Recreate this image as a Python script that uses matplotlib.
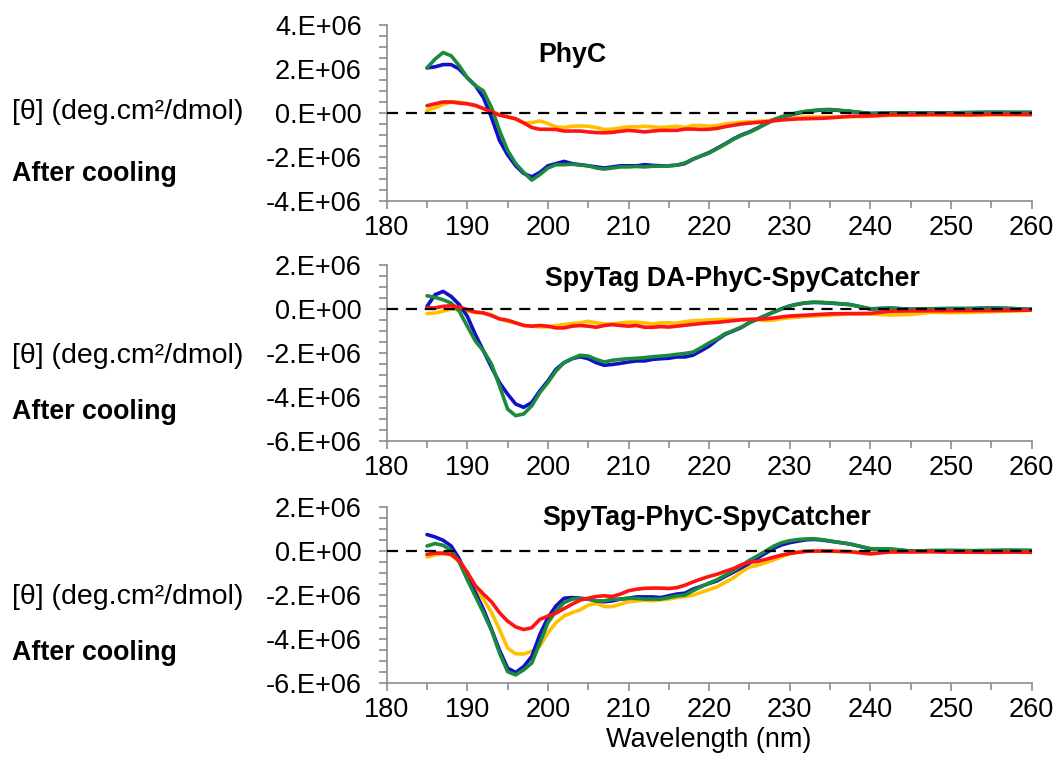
import matplotlib
matplotlib.use("Agg")
import matplotlib.pyplot as plt
from matplotlib.ticker import MultipleLocator, FuncFormatter

plt.rcParams['font.family'] = ['Liberation Sans', 'DejaVu Sans']

# wavelength grid (nm)
wl = list(range(185, 236)) + [237.5, 240, 242.5, 245, 247.5, 250, 252.5, 255, 257.5, 260]

# ellipticity, in units of 1E+06 deg.cm2/dmol
# panel 1: PhyC
phyc_blue = [2.05, 2.1, 2.2, 2.2, 2.0, 1.6, 1.25, 0.7, -0.2, -1.25, -1.9, -2.4, -2.75, -2.9, -2.7, -2.4,
             -2.3, -2.2, -2.3, -2.35, -2.4, -2.45, -2.5, -2.45, -2.4, -2.4, -2.4, -2.35, -2.38, -2.4, -2.4,
             -2.37, -2.3, -2.1, -1.95, -1.8,
             -1.6, -1.4, -1.18, -1.0, -0.86, -0.68, -0.5, -0.32, -0.18, -0.09, -0.01, 0.06, 0.1, 0.14, 0.15,
             0.07, -0.02, 0.0, 0.0, 0.0, 0.01, 0.02, 0.03, 0.02, 0.02]
phyc_green = [2.05, 2.45, 2.75, 2.6, 2.15, 1.6, 1.25, 1.0, 0.25, -0.8, -1.7, -2.3, -2.7, -3.05, -2.8, -2.5,
              -2.35, -2.35, -2.33, -2.37, -2.4, -2.5, -2.55, -2.5, -2.45, -2.45, -2.43, -2.45, -2.42, -2.42,
              -2.4, -2.37, -2.27, -2.1, -1.95, -1.82,
              -1.62, -1.42, -1.2, -1.02, -0.88, -0.7, -0.5, -0.3, -0.17, -0.07, 0.02, 0.08, 0.12, 0.15, 0.16,
              0.08, -0.03, 0.0, 0.01, 0.0, 0.0, 0.02, 0.03, 0.03, 0.03]
phyc_yellow = [0.12, 0.24, 0.39, 0.5, 0.5, 0.42, 0.32, 0.2, 0.09, -0.06, -0.15, -0.29, -0.45, -0.44, -0.36,
               -0.48, -0.63, -0.66, -0.6, -0.59, -0.6, -0.66, -0.75, -0.73, -0.68, -0.63, -0.63, -0.6, -0.63,
               -0.66, -0.63, -0.6, -0.66, -0.56,
               -0.57, -0.6, -0.57, -0.5, -0.46, -0.42, -0.4, -0.38, -0.36, -0.32, -0.28, -0.24, -0.2, -0.18,
               -0.18, -0.18, -0.18,
               -0.17, -0.15, -0.1, -0.1, -0.08, -0.1, -0.1, -0.08, -0.09, -0.08]
phyc_red = [0.33, 0.42, 0.5, 0.5, 0.45, 0.42, 0.35, 0.2, 0.05, -0.1, -0.18, -0.26, -0.45, -0.66, -0.74, -0.74,
            -0.75, -0.82, -0.82, -0.82, -0.86, -0.89, -0.9, -0.88, -0.83, -0.79, -0.82, -0.86, -0.82, -0.79,
            -0.79, -0.79, -0.73, -0.73,
            -0.75, -0.74, -0.7, -0.62, -0.56, -0.5, -0.46, -0.43, -0.4, -0.36, -0.32, -0.29, -0.27, -0.26,
            -0.25, -0.24, -0.22,
            -0.15, -0.13, -0.08, -0.08, -0.07, -0.07, -0.08, -0.06, -0.06, -0.07]

# panel 2: SpyTag DA-PhyC-SpyCatcher
da_blue = [0.12, 0.65, 0.8, 0.57, 0.2, -0.33, -1.16, -1.9, -2.65, -3.35, -3.87, -4.32, -4.47, -4.25, -3.72,
           -3.27, -2.74, -2.44, -2.26, -2.17, -2.26, -2.44, -2.56, -2.52, -2.47, -2.41, -2.36, -2.36, -2.29,
           -2.26, -2.24, -2.18, -2.18, -2.1, -1.9, -1.69,
           -1.4, -1.15, -1.0, -0.84, -0.62, -0.46, -0.3, -0.14, 0.01, 0.14, 0.22, 0.28, 0.3, 0.29, 0.27,
           0.2, 0.0, 0.04, -0.01, 0.01, 0.02, 0.02, 0.05, 0.02, -0.02]
da_green = [0.6, 0.53, 0.42, 0.27, -0.1, -0.78, -1.46, -1.9, -2.5, -3.5, -4.55, -4.85, -4.77, -4.4, -3.8,
            -3.34, -2.82, -2.44, -2.26, -2.1, -2.14, -2.29, -2.41, -2.33, -2.29, -2.26, -2.24, -2.21, -2.17,
            -2.14, -2.11, -2.06, -2.02, -1.96, -1.76, -1.54,
            -1.35, -1.12, -0.98, -0.82, -0.62, -0.46, -0.3, -0.14, 0.0, 0.13, 0.22, 0.28, 0.31, 0.3, 0.28,
            0.2, 0.01, 0.04, -0.02, 0.01, 0.02, 0.02, 0.04, 0.02, -0.02]
da_yellow = [-0.21, -0.18, -0.1, 0.0, -0.03, -0.1, -0.15, -0.18, -0.26, -0.45, -0.56, -0.63, -0.74, -0.78,
             -0.81, -0.81, -0.75, -0.71, -0.66, -0.63, -0.56, -0.63, -0.68, -0.68, -0.63, -0.6, -0.6, -0.63,
             -0.68, -0.63, -0.63, -0.64, -0.58, -0.53,
             -0.52, -0.5, -0.48, -0.47, -0.47, -0.48, -0.48, -0.49, -0.52, -0.5, -0.44, -0.4, -0.37, -0.34,
             -0.32, -0.3, -0.28,
             -0.22, -0.23, -0.27, -0.25, -0.15, -0.17, -0.15, -0.12, -0.1, -0.06]
da_red = [0.05, 0.05, 0.12, 0.15, 0.09, -0.03, -0.14, -0.18, -0.3, -0.45, -0.51, -0.63, -0.75, -0.78, -0.75,
          -0.78, -0.86, -0.86, -0.78, -0.75, -0.78, -0.83, -0.75, -0.71, -0.75, -0.78, -0.75, -0.83, -0.83,
          -0.8, -0.82, -0.78, -0.74, -0.7,
          -0.66, -0.63, -0.61, -0.57, -0.53, -0.49, -0.47, -0.46, -0.45, -0.41, -0.36, -0.32, -0.3, -0.28,
          -0.26, -0.24, -0.22,
          -0.21, -0.2, -0.1, -0.09, -0.08, -0.08, -0.07, -0.07, -0.06, -0.05]

# panel 3: SpyTag-PhyC-SpyCatcher
spy_blue = [0.75, 0.64, 0.49, 0.23, -0.35, -1.19, -1.88, -2.64, -3.55, -4.5, -5.31, -5.51, -5.24, -4.78,
            -3.79, -3.02, -2.49, -2.14, -2.11, -2.14, -2.18, -2.26, -2.3, -2.26, -2.18, -2.14, -2.08, -2.08,
            -2.08, -2.11, -2.03, -1.95, -1.91, -1.73, -1.6, -1.47,
            -1.35, -1.15, -0.96, -0.76, -0.55, -0.32, -0.1, 0.12, 0.28, 0.38, 0.45, 0.51, 0.53, 0.5, 0.45,
            0.32, 0.1, 0.08, 0.0, 0.02, 0.02, 0.01, 0.02, 0.03, 0.02]
spy_green = [0.23, 0.34, 0.26, 0.03, -0.5, -1.3, -2.05, -2.8, -3.6, -4.63, -5.47, -5.62, -5.39, -5.08,
             -4.17, -3.25, -2.72, -2.34, -2.18, -2.15, -2.18, -2.26, -2.26, -2.18, -2.18, -2.14, -2.15, -2.18,
             -2.18, -2.18, -2.11, -2.03, -2.0, -1.8, -1.62, -1.45,
             -1.3, -1.1, -0.9, -0.66, -0.42, -0.22, 0.0, 0.22, 0.38, 0.47, 0.52, 0.55, 0.56, 0.52, 0.46,
             0.32, 0.11, 0.1, 0.0, 0.02, 0.03, 0.02, 0.03, 0.04, 0.03]
spy_yellow = [-0.27, -0.17, -0.12, -0.17, -0.5, -1.11, -1.65, -2.18, -2.79, -3.56, -4.4, -4.66, -4.67, -4.55,
              -4.32, -3.71, -3.25, -2.95, -2.79, -2.67, -2.46, -2.37, -2.52, -2.52, -2.41, -2.3, -2.26, -2.23,
              -2.26, -2.21, -2.18, -2.11, -2.06, -2.0, -1.88, -1.75,
              -1.62, -1.42, -1.22, -0.95, -0.73, -0.65, -0.53, -0.4, -0.26, -0.12, -0.03, 0.0, 0.0, 0.0, -0.01,
              -0.03, -0.05, -0.03, -0.03, -0.02, -0.03, -0.02, -0.03, -0.02, -0.02]
spy_red = [-0.15, -0.09, -0.09, -0.15, -0.43, -0.96, -1.57, -1.95, -2.3, -2.8, -3.18, -3.44, -3.56, -3.48,
           -3.1, -2.95, -2.82, -2.61, -2.41, -2.23, -2.14, -2.06, -2.03, -2.06, -1.95, -1.8, -1.73, -1.69,
           -1.68, -1.68, -1.7, -1.66, -1.55, -1.4, -1.27, -1.15,
           -1.05, -0.92, -0.8, -0.62, -0.5, -0.47, -0.38, -0.28, -0.18, -0.11, -0.06, -0.02, 0.0, 0.0, 0.0,
           -0.03, -0.13, -0.04, -0.04, -0.03, -0.05, -0.05, -0.06, -0.05, -0.06]

titles = ["PhyC", "SpyTag DA-PhyC-SpyCatcher", "SpyTag-PhyC-SpyCatcher"]
ylims = [(-4, 4), (-6, 2), (-6, 2)]
panels = [
    (phyc_yellow, phyc_blue, phyc_green, phyc_red),
    (da_yellow, da_blue, da_green, da_red),
    (spy_yellow, spy_blue, spy_green, spy_red),
]
colors = ["#FFC000", "#1010C8", "#1B8A3C", "#FF1414"]

W, H = 1061, 767
fig = plt.figure(figsize=(W / 100, H / 100), dpi=100)

# axes boxes in pixels: (top, bottom)
boxes = [(25, 201), (265, 441), (507, 683.3)]
title_pos = [(572, 55), (732, 279), (707, 518)]
theta_y = [112, 356, 597]
after_y = [174, 412, 653]
left_px, right_px = 386.7, 1031.5
grey = "#8C8C8C"


def sci(v, pos):
    if abs(v) < 1e-9:
        return "0.E+00"
    return "%d.E+06" % round(v)


for i in range(3):
    top, bot = boxes[i]
    ax = fig.add_axes([left_px / W, 1 - bot / H, (right_px - left_px) / W, (bot - top) / H])
    for series, c in zip(panels[i], colors):
        ax.plot(wl, series, color=c, lw=2.6, solid_capstyle="round", solid_joinstyle="round", zorder=2)
    ax.axhline(0, color="black", lw=1.6, ls=(0, (5, 3.5)), zorder=3)
    ax.set_xlim(180, 260)
    ax.set_ylim(*ylims[i])
    ax.xaxis.set_major_locator(MultipleLocator(10))
    ax.xaxis.set_minor_locator(MultipleLocator(5))
    ax.yaxis.set_major_locator(MultipleLocator(2))
    ax.yaxis.set_minor_locator(MultipleLocator(0.5))
    ax.yaxis.set_major_formatter(FuncFormatter(sci))
    for s in ["top", "right"]:
        ax.spines[s].set_visible(False)
    for s in ["left", "bottom"]:
        ax.spines[s].set_color(grey)
        ax.spines[s].set_linewidth(1.2)
    ax.tick_params(axis="y", which="both", direction="out", length=6, width=1.2, color=grey,
                   labelsize=19.5, pad=12)
    ax.tick_params(axis="x", which="major", direction="out", length=6, width=1.2, color=grey,
                   labelsize=19.5, pad=4)
    ax.tick_params(axis="x", which="minor", direction="out", length=5, width=1.2, color=grey)
    ax.set_facecolor("none")

    tx, ty = title_pos[i]
    fig.text(tx / W, 1 - ty / H, titles[i], fontsize=19.3, fontweight="bold", ha="center", va="center")
    fig.text(12 / W, 1 - theta_y[i] / H, "[θ] (deg.cm²/dmol)", fontsize=20.5, ha="left", va="center")
    fig.text(12 / W, 1 - after_y[i] / H, "After cooling", fontsize=19.3, fontweight="bold",
             ha="left", va="center")

    if i == 2:
        ax.set_xlabel("Wavelength (nm)", fontsize=19.5, labelpad=3)

fig.savefig("out.png", dpi=100)
